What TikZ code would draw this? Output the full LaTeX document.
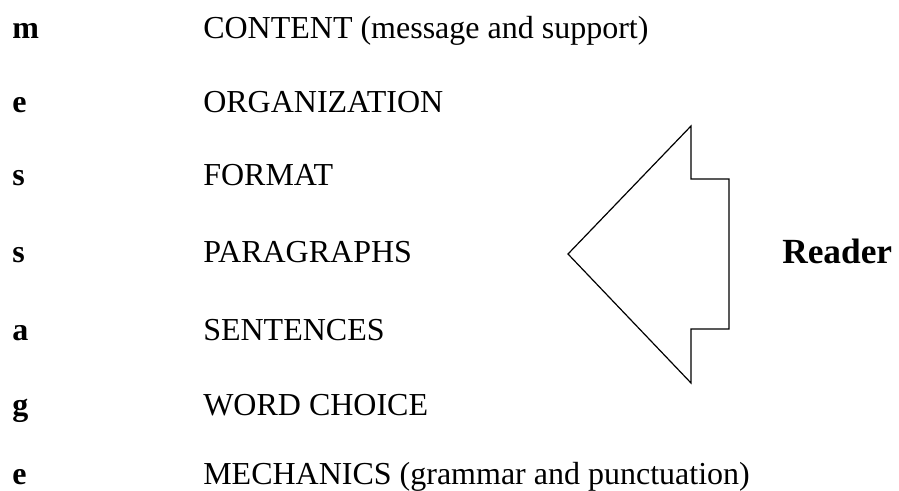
\documentclass[tikz,border=0pt]{standalone}
\usepackage{fontspec}
\setmainfont{Liberation Serif}
\usetikzlibrary{calc}

\tikzset{
    letter/.style={anchor=base west,inner sep=0pt,font=\fontsize{24}{28}\selectfont\bfseries},
    part/.style={anchor=base west,inner sep=0pt,font=\fontsize{24}{28}\selectfont},
    reader/.style={anchor=base west,inner sep=0pt,font=\fontsize{26.5}{31}\selectfont\bfseries}
}

\begin{document}
\begin{tikzpicture}[x=0.75pt,y=-0.75pt]%
        \useasboundingbox (0,0) rectangle (899,491);
        % the word read downwards, one part per row
        \foreach \ltr/\txt/\yy [count=\i] in {
            m/{CONTENT (message and support)}/39,
            e/ORGANIZATION/113,
            s/FORMAT/186,
            s/PARAGRAPHS/263,
            a/SENTENCES/340,
            g/WORD CHOICE/415,
            e/{MECHANICS (grammar and punctuation)}/484}{
            \node[letter] (ltr\i) at (12,\yy) {\ltr};
            \node[part] (part\i) at (203,\yy) {\txt};
        }
        \node[reader] (reader) at (782,264) {Reader};
        \begin{scope}[line width=0.9pt,line join=miter]
            \draw (568,254)--(691,126)--(691,179)--(729,179)--(729,329)
                --(691,329)--(691,383)--cycle;
        \end{scope}
    \end{tikzpicture}
\end{document}
